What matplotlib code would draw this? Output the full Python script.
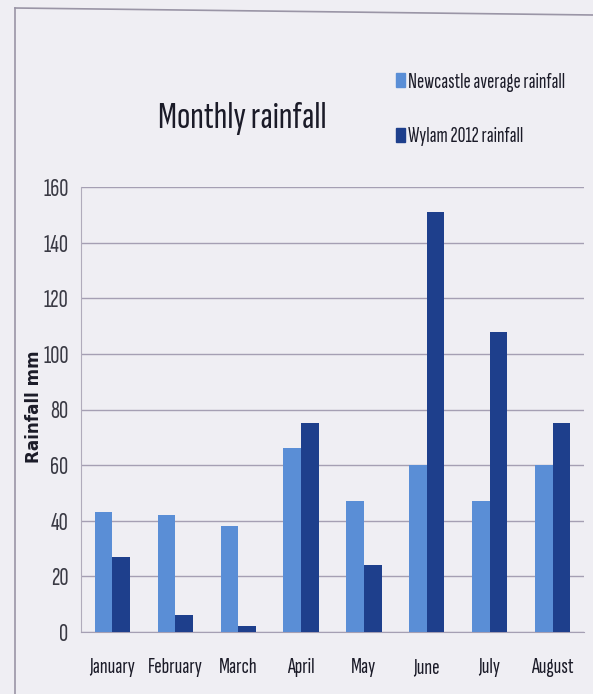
import matplotlib
matplotlib.use("Agg")
import matplotlib.pyplot as plt
import numpy as np
from matplotlib.lines import Line2D
from matplotlib.patches import Rectangle

months = ["January", "February", "March", "April", "May", "June", "July", "August"]
newcastle_avg = [43, 42, 38, 66, 47, 60, 47, 60]
wylam_2012 = [27, 6, 2, 75, 24, 151, 108, 75]
y_ticks = [0, 20, 40, 60, 80, 100, 120, 140, 160]

COND = ["Sofia Sans Extra Condensed", "Fira Sans Extra Condensed", "DejaVu Sans"]
WIDE = ["DejaVu Sans"]
BG = "#efeef3"
LIGHT = "#5a8ed6"
DARK = "#1e3f8c"
GRID = "#a59fb3"
TXT = "#1b1b28"

W, H = 593, 694
fig = plt.figure(figsize=(W / 100, H / 100), dpi=100, facecolor=BG)
ax = fig.add_axes([81 / W, 1 - 632 / H, 503 / W, 445 / H], facecolor=BG)

x = np.arange(len(months))
w = 0.28
ax.bar(x - w / 2, newcastle_avg, width=w, color=LIGHT, zorder=3, label="Newcastle average rainfall")
ax.bar(x + w / 2, wylam_2012, width=w, color=DARK, zorder=3, label="Wylam 2012 rainfall")

ax.set_xlim(-0.5, len(months) - 0.5)
ax.set_ylim(0, 160)
ax.set_yticks(y_ticks)
ylabs = ax.set_yticklabels([str(v) for v in y_ticks], family=COND, fontsize=12, color="#3a3a44")
ax.set_xticks(x)
xlabs = ax.set_xticklabels(months, family=COND, fontsize=12, color=TXT)
ax.tick_params(axis="both", length=0)
ax.tick_params(axis="y", pad=9)
ax.tick_params(axis="x", pad=19)
ax.yaxis.grid(True, color=GRID, linewidth=1.0, zorder=0)
for s in ["top", "right"]:
    ax.spines[s].set_visible(False)
ax.spines["left"].set_color("#b0abbb")
ax.spines["bottom"].set_color(GRID)

ylab = fig.text(34 / W, 1 - 407 / H, "Rainfall mm", family=WIDE, fontweight="bold", fontsize=10,
                rotation=90, ha="center", va="center", color=TXT)

title = fig.text(158 / W, 1 - 128 / H, "Monthly rainfall", family=COND, fontsize=20,
                 ha="left", va="baseline", color=TXT)

# legend
fig.patches.append(Rectangle((396 / W, 1 - 87 / H), 9 / W, 14 / H, transform=fig.transFigure, color=LIGHT))
leg1 = fig.text(408 / W, 1 - 88 / H, "Newcastle average rainfall", family=COND, fontsize=12,
                ha="left", va="baseline", color=TXT)
fig.patches.append(Rectangle((396 / W, 1 - 142 / H), 9 / W, 14 / H, transform=fig.transFigure, color=DARK))
leg2 = fig.text(408 / W, 1 - 142 / H, "Wylam 2012 rainfall", family=COND, fontsize=12,
                ha="left", va="baseline", color=TXT)

# outer frame (scanned page border)
fig.add_artist(Line2D([15 / W, 1.0], [1 - 8 / H, 1 - 15 / H], transform=fig.transFigure, color="#9a95a6", linewidth=1.2))
fig.add_artist(Line2D([15 / W, 15 / W], [1 - 8 / H, 0.0], transform=fig.transFigure, color="#9a95a6", linewidth=1.2))

# size texts to the widths measured on the reference (slightly enlarged: the scan is stretched vertically)
fig.canvas.draw()
r = fig.canvas.get_renderer()

def fit(t, target, vertical=False):
    bb = t.get_window_extent(r)
    cur = bb.height if vertical else bb.width
    return t.get_fontsize() * target / cur

K = 1.1
title.set_fontsize(fit(title, 154) * K)
ylab.set_fontsize(fit(ylab, 112, vertical=True))
ls = fit(leg1, 143) * K
leg1.set_fontsize(ls)
leg2.set_fontsize(ls)
xs = fit(xlabs[1], 50) * K
for t in xlabs:
    t.set_fontsize(xs)
ys = fit(ylabs[-1], 23) * K
for t in ylabs:
    t.set_fontsize(ys)

fig.savefig("out.png", dpi=100, facecolor=BG)
